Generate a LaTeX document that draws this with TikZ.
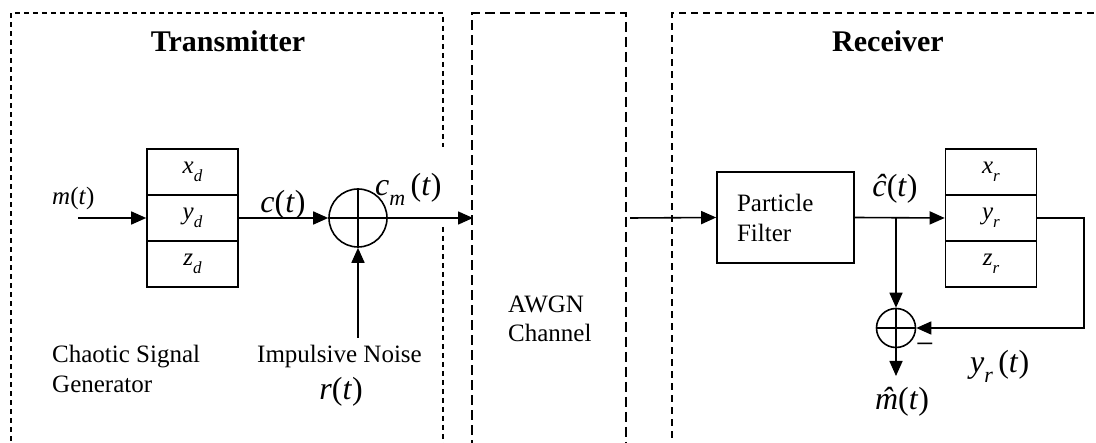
\documentclass[tikz,border=0pt]{standalone}
\usepackage{fontspec}
\setmainfont{Liberation Serif}
\usetikzlibrary{arrows.meta}
% lowered italic subscript in text
\newcommand\lowsub[2][17]{\raisebox{-0.3em}{\fontsize{#1}{#1}\selectfont\itshape #2}}
% italic letter with a circumflex centred over it
\newcommand\hatted[1]{{\ooalign{\textit{#1}\cr\hidewidth\kern2pt\textit{\char"02C6}\hidewidth\cr}}}
\tikzset{
  txframe/.style={line width=1.2pt, dash pattern=on 5pt off 4pt},
  chframe/.style={line width=1.5pt, dash pattern=on 10pt off 5pt},
  rxframe/.style={line width=1.2pt, dash pattern=on 7pt off 5pt},
  cell/.style={draw, line width=1.6pt, minimum width=91pt, minimum height=46pt,
    inner sep=0pt, font=\fontsize{25}{25}\selectfont\itshape},
  summer/.style={draw, circle, line width=1.6pt, inner sep=0pt},
  sig/.style={line width=1.6pt},
  arr/.style={sig, -{Triangle[length=15pt,width=13pt]}},
  lbl/.style={inner sep=0pt, font=\fontsize{25}{30}\selectfont},
  biglbl/.style={inner sep=0pt, font=\fontsize{32}{32}\selectfont},
  ttl/.style={inner sep=0pt, font=\fontsize{30}{30}\selectfont\bfseries},
}
\begin{document}
\begin{tikzpicture}[x=1pt,y=1pt]
\useasboundingbox (0,0) rectangle (1096,-443);

% frames
\draw[txframe] (11,-450) -- (11,-13) -- (443,-13) -- (443,-147);
\draw[txframe] (443,-227) -- (443,-450);
\draw[chframe] (472,-450) -- (472,-13) -- (626,-13) -- (626,-450);
\draw[rxframe] (672,-450) -- (672,-13) -- (1100,-13);

% titles
\node[ttl, anchor=base] (txt) at (228,-52) {Transmitter};
\node[ttl, anchor=base] (rxt) at (888,-52) {Receiver};

% transmitter blocks
\node[cell] (xd) at (192.5,-172) {x\lowsub{d}};
\node[cell] (yd) at (192.5,-218) {y\lowsub{d}};
\node[cell] (zd) at (192.5,-264) {z\lowsub{d}};
\node[summer, minimum size=58pt] (sum) at (358,-218) {};
\draw[sig] (sum.north) -- (sum.south) (sum.west) -- (sum.east);

\coordinate (min) at (78,-218);
\coordinate (rin) at (358,-338);
\coordinate (chin) at (473,-218);
\draw[arr] (min) -- (yd.west);
\draw[arr] (yd.east) -- (sum.west);
\draw[arr] (rin) -- (sum.south);
\draw[arr] (sum.east) -- (chin);

\node[lbl, anchor=base west] (mt) at (52,-205) {\textit{m}(\textit{t})};
\node[biglbl, anchor=base] (ct) at (283,-213) {\textit{c}(\textit{t})};
\node[biglbl, anchor=base west] (cmt) at (375,-196) {\textit{c}\lowsub[22]{m}\,(\textit{t})};
\node[lbl, anchor=base west] (cs1) at (52,-363) {Chaotic Signal};
\node[lbl, anchor=base west] (cs2) at (52,-393) {Generator};
\node[lbl, anchor=base west] (imp) at (257,-363) {Impulsive Noise};
\node[biglbl, anchor=base] (rt) at (341,-400) {\textit{r}(\textit{t})};

% channel
\node[lbl, anchor=base west] (aw1) at (508,-313) {AWGN};
\node[lbl, anchor=base west] (aw2) at (508,-342) {Channel};

% receiver
\coordinate (chout) at (630,-218);
\node[draw, line width=1.6pt, minimum width=137pt, minimum height=91pt,
  text width=97pt, inner xsep=20pt, align=left, font=\fontsize{25}{30}\selectfont]
  (pf) at (785.5,-217.5) {Particle\\Filter};
\draw[arr] (chout) -- (pf.west);

\node[cell] (xr) at (991,-172) {x\lowsub{r}};
\node[cell] (yr) at (991,-218) {y\lowsub{r}};
\node[cell] (zr) at (991,-264) {z\lowsub{r}};
\node[summer, minimum size=39pt] (diff) at (896,-328) {};
\draw[sig] (diff.north) -- (diff.south) (diff.west) -- (diff.east);

\coordinate (jn) at (896,-218);
\coordinate (fb) at (1084,-218);
\coordinate (mout) at (896,-376);
\draw[arr] (pf.east) -- (yr.west);
\draw[arr] (jn) -- (diff.north);
\draw[arr] (yr.east) -- (fb) |- (diff.east);
\draw[arr] (diff.south) -- (mout);

\node[biglbl, anchor=base] (chat) at (895,-197) {\textit{ĉ}(\textit{t})};
\node[biglbl, anchor=center] (minus) at (925,-349) {−};
\node[biglbl, anchor=base west] (yrt) at (970,-373) {\textit{y}\lowsub[22]{r}\,(\textit{t})};
\node[biglbl, anchor=base] (mhat) at (902,-410) {\hatted{m}(\textit{t})};
\end{tikzpicture}
\end{document}
